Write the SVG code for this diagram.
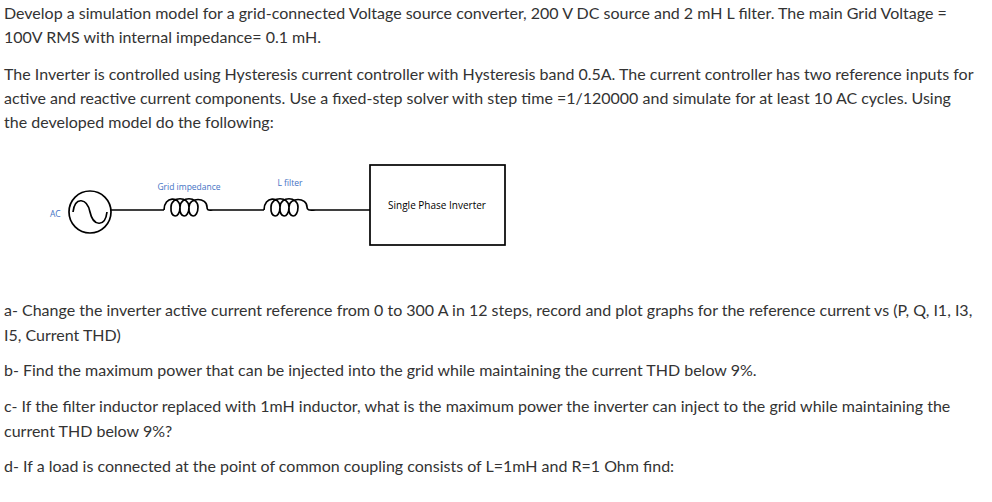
<svg xmlns="http://www.w3.org/2000/svg" width="992" height="502" viewBox="0 0 992 502">
<style>
.t{font-family:Lato,"Liberation Sans",sans-serif;font-size:16px;fill:#333}
.l{font-family:"Open Sans","Liberation Sans",sans-serif;font-size:8.5px;fill:#4472C4}
.w{fill:none;stroke:#000;stroke-width:1.7}
</style>
<rect width="992" height="502" fill="#fff"/>
<text class="t" x="4" y="19">Develop a simulation model for a grid-connected Voltage source converter, 200 V DC source and 2  mH  L filter. The main Grid Voltage =</text>
<text class="t" x="4" y="43">100V RMS with internal impedance= 0.1 mH.</text>
<text class="t" x="4" y="80">The Inverter is controlled using Hysteresis current controller with Hysteresis band 0.5A. The current controller has two reference inputs for</text>
<text class="t" x="4" y="104">active and reactive current components. Use a fixed-step solver with step time =1/120000 and simulate for at least 10 AC cycles. Using</text>
<text class="t" x="4" y="128">the developed model do the following:</text>
<g id="connectors">
<path class="w" d="M111 210H164M213 210H264M316 210H370"/>
</g>
<g id="ac">
<circle class="w" cx="90" cy="212" r="21"/>
<path class="w" d="M73 212C75 196 87 198 90 212C93 226 105 228 107 212"/>
<text class="l" x="50" y="217">AC</text>
</g>
<g id="grid-impedance">
<path class="w" d="M164 210C164 196 180 196 180 207C180 219 170 219 171 207C171 196 189 196 189 207C189 219 179 219 180 207C180 196 198 196 198 207C198 219 188 219 189 207C189 197 207 197 207 207C207 211 209 210 213 210"/>
<text class="l" x="189" y="190" text-anchor="middle">Grid impedance</text>
</g>
<g id="l-filter">
<path class="w" d="M264 210C264 196 280 196 280 207C280 219 270 219 271 207C271 196 289 196 289 207C289 219 279 219 280 207C280 196 298 196 298 207C298 219 288 219 289 207C289 197 307 197 307 207C307 211 310 210 316 210"/>
<text class="l" x="290" y="186" text-anchor="middle">L filter</text>
</g>
<g id="inverter">
<rect class="w" x="370" y="165" width="135" height="80"/>
<text x="437" y="209" text-anchor="middle" font-family="'Open Sans','Liberation Sans',sans-serif" font-size="10" fill="#000">Single Phase Inverter</text>
</g>
<text class="t" x="4" y="316">a- Change the inverter active current reference from 0 to 300 A in 12 steps, record and plot graphs for the reference current vs (P, Q, I1, I3,</text>
<text class="t" x="4" y="341">I5, Current THD)</text>
<text class="t" x="4" y="376">b- Find the maximum power that can be injected into the grid while maintaining the current THD below 9%.</text>
<text class="t" x="4" y="412">c- If the filter inductor replaced with 1mH inductor, what is the maximum power the inverter can inject to the grid while maintaining the</text>
<text class="t" x="4" y="437">current THD below 9%?</text>
<text class="t" x="4" y="472">d- If a load is connected at the point of common coupling consists of L=1mH and R=1 Ohm find:</text>
</svg>
